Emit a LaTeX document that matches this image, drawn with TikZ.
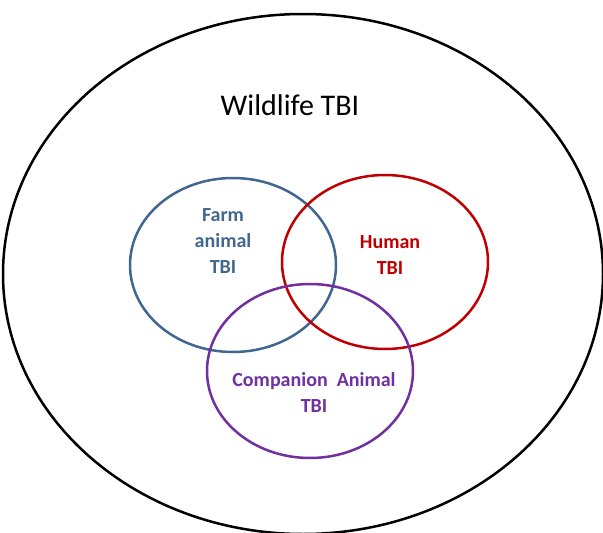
\documentclass[tikz,border=0pt]{standalone}
\usepackage{fontspec}
\setmainfont{Carlito}
\usetikzlibrary{shapes.geometric}
\definecolor{farmblue}{HTML}{41668F}
\definecolor{humanred}{HTML}{C00000}
\definecolor{compurple}{HTML}{7030A0}

\begin{document}
\begin{tikzpicture}[x=1pt,y=-1pt,
  ring/.style={ellipse,draw,line width=2.5pt,inner sep=0pt},
  small ring/.style={ring,minimum width=206pt,minimum height=174pt},
  tag/.style={font=\fontsize{20}{26}\selectfont\bfseries,align=center}]
\useasboundingbox (0,0) rectangle (603,533);
\node[ring,minimum width=600pt,minimum height=520pt] (wild) at (303,274) {};
\node[small ring,draw=farmblue] (farm) at (233,265) {};
\node[small ring,draw=humanred] (human) at (385,262) {};
\node[small ring,draw=compurple] (companion) at (310,371) {};
% labels
\node[font=\fontsize{30}{36}\selectfont] (wildtext) at (290,105) {Wildlife TBI};
\node[tag,text=farmblue] (farmtext) at (223,241) {Farm\\animal\\TBI};
\node[tag,text=humanred] (humantext) at (390,255) {Human\\TBI};
\node[tag,text=compurple] (companiontext) at (314,392) {Companion\ \ Animal\\TBI};
\end{tikzpicture}
\end{document}
